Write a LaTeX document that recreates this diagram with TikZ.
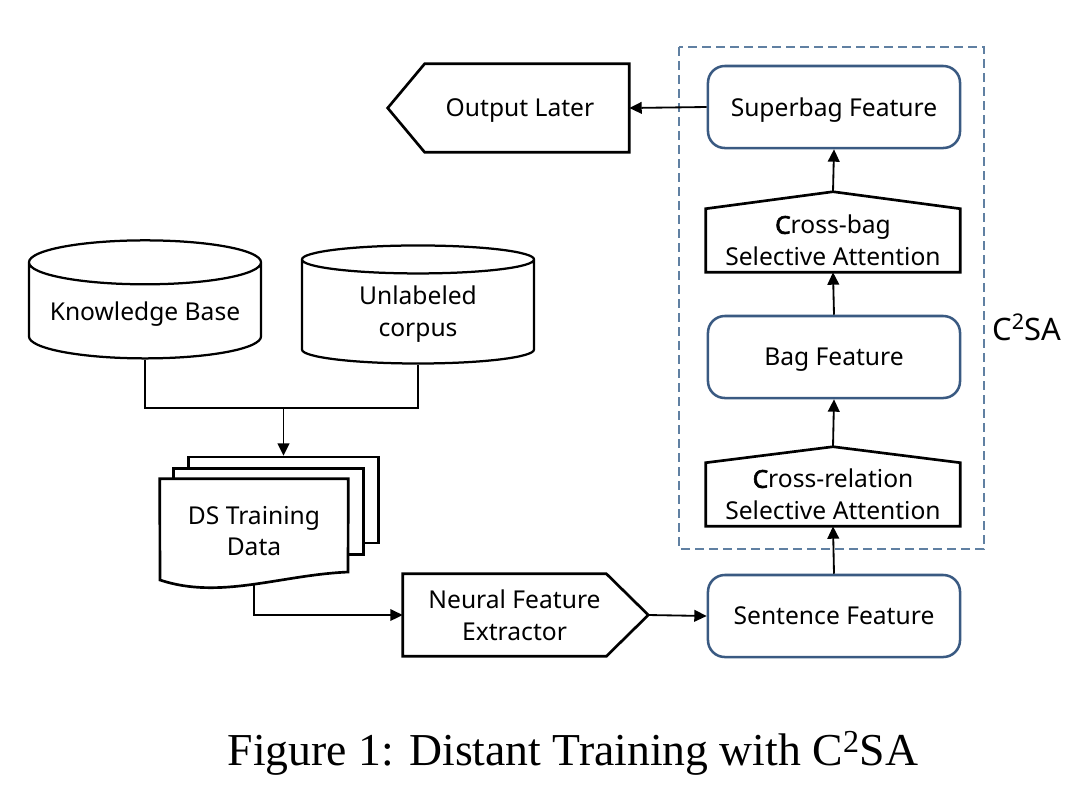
\documentclass[tikz,border=0pt]{standalone}
\usepackage{fontspec}
\setmainfont{Liberation Serif}
\newfontfamily\boxfont{Noto Sans}[AutoFakeBold=2.5]
\usepackage{xcolor}
\usetikzlibrary{shapes.geometric, arrows.meta, backgrounds}

\definecolor{featblue}{RGB}{58,90,130}
\definecolor{dashblue}{RGB}{96,128,162}
\newcommand{\boxtext}{\boxfont\fontsize{17.5}{22.7}\selectfont}

\tikzset{
    featbox/.style={draw=featblue, line width=1.8pt, rounded corners=0.42cm,
        minimum width=6.3cm, minimum height=2.05cm, text depth=0pt, align=center, font=\boxtext},
    attnbox/.style={minimum width=6.35cm, minimum height=1.575cm, inner sep=0pt,
        align=center, font=\boxtext},
    blockline/.style={line width=1.9pt},
    dbbox/.style={cylinder, shape border rotate=90, draw, line width=1.6pt, aspect=0.22,
        minimum width=5.8cm, minimum height=2.95cm, align=center, font=\boxtext},
    pagebox/.style={draw, line width=1.7pt, fill=white, minimum width=4.75cm, minimum height=2.15cm},
    link/.style={line width=1.3pt, ->}
}

\begin{document}
\begin{tikzpicture}[x=0.025cm, y=-0.025cm, >={Triangle[length=3.1mm,width=2.9mm]}]
    \useasboundingbox (0,0) rectangle (1090,792);

    % C2SA frame
    \draw[dashblue, line width=1.1pt, dash pattern=on 2.2mm off 1.3mm] (679,47) rectangle (984,549);
    \node[anchor=base west, inner sep=0pt, font=\boxfont\fontsize{22}{26}\selectfont] (c2sa) at (992,340) {C\textsuperscript{2}SA};

    % Feature boxes
    \node[featbox] (superbag) at (834,107) {Superbag Feature};
    \node[featbox] (bag) at (834,357) {Bag Feature};
    \node[featbox] (sentence) at (834,616) {Sentence Feature};

    % Cross-bag attention
    \node[attnbox] (crossbag) at (833,240.5) {\textbf{C}ross-bag\\Selective Attention};
    \coordinate (crossbagtip) at ([yshift=0.425cm]crossbag.north);
    \draw[blockline] (crossbag.south west) -- (crossbag.north west) -- (crossbagtip)
        -- (crossbag.north east) -- (crossbag.south east) -- cycle;

    % Cross-relation attention
    \node[attnbox] (crossrel) at (833,494.5) {\textbf{C}ross-relation\\Selective Attention};
    \coordinate (crossreltip) at ([yshift=0.4cm]crossrel.north);
    \draw[blockline] (crossrel.south west) -- (crossrel.north west) -- (crossreltip)
        -- (crossrel.north east) -- (crossrel.south east) -- cycle;

    % Output Later
    \node[minimum width=5.1cm, minimum height=2.2cm, inner sep=0pt, text depth=0pt, font=\boxtext] (output) at (527,108) {Output Later\hspace*{0.35cm}};
    \draw[blockline] (output.north east) -- (output.north west) -- ([xshift=-0.925cm]output.west)
        -- (output.south west) -- (output.south east) -- cycle;

    % Neural Feature Extractor
    \node[minimum width=5.075cm, minimum height=2.05cm, inner sep=0pt, align=center, font=\boxtext] (nfe) at (504.5,615)
        {\hspace*{0.5cm}Neural Feature\\\hspace*{0.5cm}Extractor};
    \coordinate (nfetip) at ([xshift=1.05cm]nfe.east);
    \draw[blockline] (nfe.north west) -- (nfe.north east) -- (nfetip)
        -- (nfe.south east) -- (nfe.south west) -- cycle;

    % Knowledge Base and corpus
    \node[dbbox] (kb) at (145,314) {Knowledge Base};
    \node[dbbox] (corpus) at (418,314) {Unlabeled\\corpus};

    % DS Training Data pages
    \node[minimum width=4.7cm, minimum height=2.6cm, inner sep=0pt, align=center, font=\boxtext] (dsdata) at (254,531)
        {DS Training\\Data};
    \begin{scope}[on background layer]
        \node[pagebox] (pageback) at (283.5,500) {};
        \node[pagebox] (pagemid) at (268.5,511.5) {};
        \draw[blockline, fill=white] (dsdata.north west) -- (dsdata.north east) -- (348,572)
            .. controls (280,575) and (220,600) .. (160,580) -- cycle;
    \end{scope}

    % Connections
    \coordinate (join) at (pageback.north |- 0,408);
    \draw[line width=1.3pt] (kb.south) |- (join) -| (corpus.south);
    \draw[link] (join) -- (pageback.north);
    \draw[link] (dsdata.south) |- (nfe.west);
    \draw[link] (nfetip) -- (sentence.west);
    \draw[link] (sentence.north) -- (crossrel.south);
    \draw[link] (crossreltip) -- (bag.south);
    \draw[link] (bag.north) -- (crossbag.south);
    \draw[link] (crossbagtip) -- (superbag.south);
    \draw[link] (superbag.west) -- (output.east);

    % Caption
    \node[anchor=base, font=\fontsize{32.5}{38}\selectfont] (caption) at (573,765) {Figure 1: Distant Training with C\textsuperscript{2}SA};
\end{tikzpicture}
\end{document}
